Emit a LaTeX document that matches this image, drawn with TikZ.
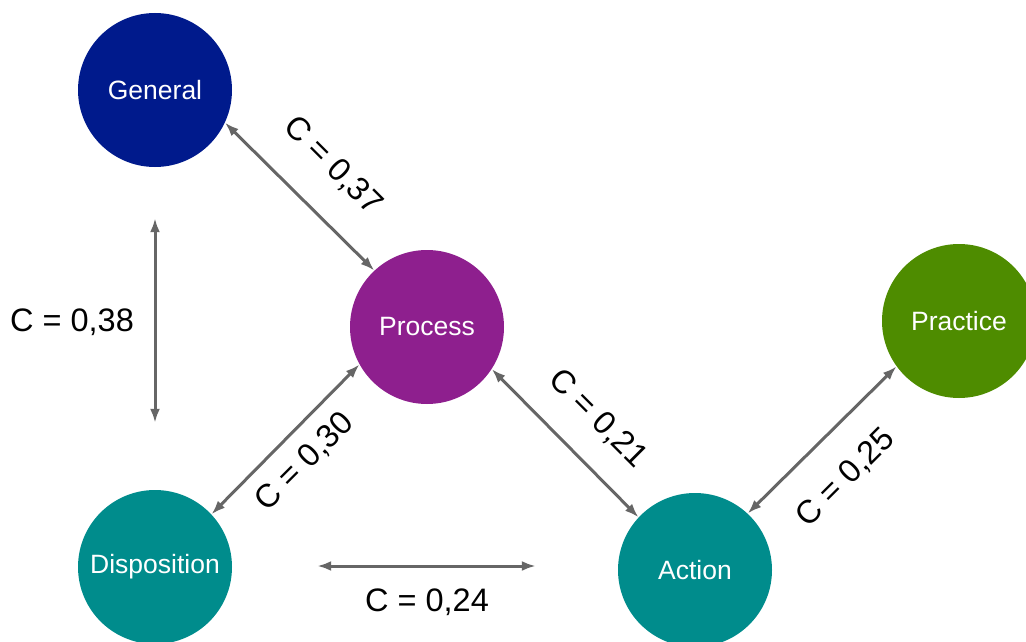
\documentclass[tikz,border=0pt]{standalone}
\usepackage{fontspec}
\setmainfont{Liberation Sans}
\usetikzlibrary{arrows.meta}
\definecolor{cgen}{HTML}{001A8C}
\definecolor{cproc}{HTML}{8E1F8E}
\definecolor{cprac}{HTML}{4E8C00}
\definecolor{cteal}{HTML}{008C8C}
\definecolor{carr}{HTML}{666666}
\tikzset{
  circ/.style={circle, minimum size=154pt, inner sep=0pt, text=white, font=\fontsize{26.5}{30}\selectfont},
  arr/.style={draw=carr, line width=3pt, {Latex[length=14pt,width=10pt]}-{Latex[length=14pt,width=10pt]}},
  lab/.style={font=\fontsize{32.5}{38}\selectfont, inner sep=0pt}
}
\begin{document}
\begin{tikzpicture}[x=1pt,y=-1pt]
\useasboundingbox (0,0) rectangle (1026,642);
\node[circ, fill=cgen] (gen) at (155,90) {General};
\node[circ, fill=cproc] (proc) at (427,327) {Process};
\node[circ, fill=cprac] (prac) at (959,321) {Practice};
\node[circ, fill=cteal] (disp) at (155,567) {Disposition};
\node[circ, fill=cteal] (act) at (695,570) {Action};

\draw[arr] (gen.-25) -- (proc.133);
\draw[arr, shorten <=51pt, shorten >=67pt] (gen.south) -- (disp.north);
\draw[arr] (disp.43) -- (proc.209);
\draw[arr] (proc.-33) -- (act.137);
\draw[arr] (act.47) -- (prac.216);
\draw[arr, shorten <=85pt, shorten >=82pt] ([yshift=1pt]disp.east) -- ([yshift=1pt]disp.east -| act.west);

\node[lab, rotate=-45] (l37) at (333,166) {C = 0,37};
\node[lab] (l38) at (72,322) {C = 0,38};
\node[lab, rotate=45] (l30) at (305,462) {C = 0,30};
\node[lab, rotate=-45] (l21) at (598,419) {C = 0,21};
\node[lab, rotate=45] (l25) at (846,478) {C = 0,25};
\node[lab] (l24) at (427,602) {C = 0,24};
\end{tikzpicture}
\end{document}
